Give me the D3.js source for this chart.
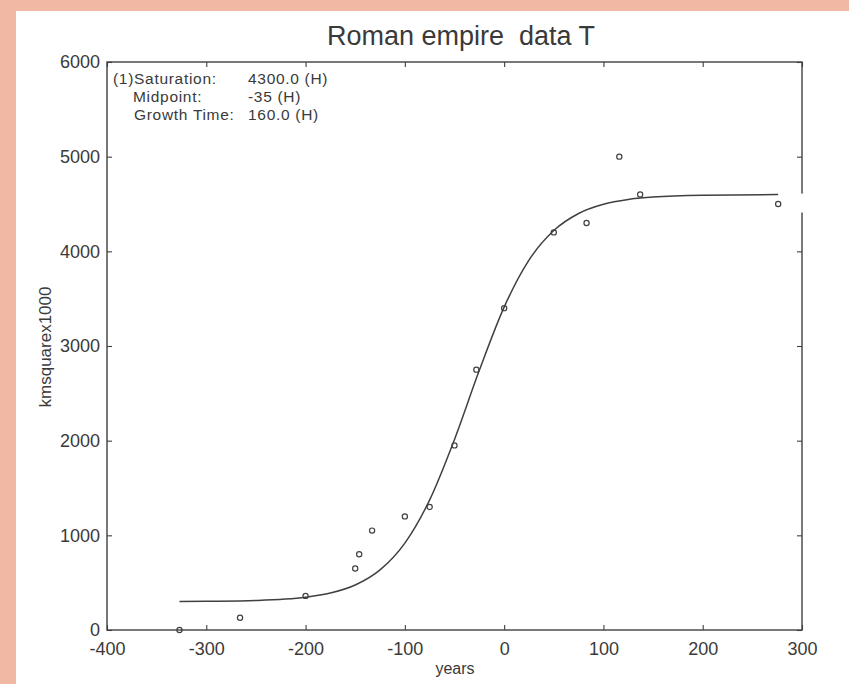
<!DOCTYPE html>
<html><head><meta charset="utf-8">
<script src="https://cdn.jsdelivr.net/npm/d3@7"></script>
<style>
html,body{margin:0;padding:0;background:#f1b8a3;}
svg{display:block;}
text{font-family:"Liberation Sans",Arial,Helvetica,sans-serif;fill:#3a3a3a;}
</style></head>
<body>
<svg id="c" width="849" height="684"></svg>
<script>
// data
const years  = [-327, -266, -200, -150, -146, -133, -100, -75, -50, -28, 0, 50, 83, 116, 137, 276];
const area   = [0, 130, 360, 650, 800, 1050, 1200, 1300, 1950, 2750, 3400, 4200, 4300, 5000, 4600, 4500];
const fitYears = [-327, -300, -250, -200, -175, -150, -125, -100, -75, -50, -25, 0, 25, 50, 75, 100, 125, 150, 200, 276];
const fitArea  = [300, 303, 312, 346, 390, 475, 635, 918, 1375, 2013, 2743, 3411, 3907, 4220, 4400, 4497, 4548, 4573, 4593, 4600];
const xTicks = [-400, -300, -200, -100, 0, 100, 200, 300];
const yTicks = [0, 1000, 2000, 3000, 4000, 5000, 6000];
const titleText = "Roman empire  data T";
const infoLabels = ["(1)Saturation:", "Midpoint:", "Growth Time:"];
const infoValues = ["4300.0 (H)", "-35 (H)", "160.0 (H)"];

const svg = d3.select("#c");
svg.append("rect").attr("x",16).attr("y",11).attr("width",833).attr("height",673).attr("fill","#ffffff");

const L=107, R=802, T=62, B=630;
const x = d3.scaleLinear().domain([-400,300]).range([L,R]);
const y = d3.scaleLinear().domain([0,6000]).range([B,T]);
const col = "#404040";

// frame
svg.append("rect").attr("x",L).attr("y",T).attr("width",R-L).attr("height",B-T)
  .attr("fill","none").attr("stroke",col).attr("stroke-width",1.4);

function styleAxis(g){ g.select(".domain").remove(); g.selectAll("line").attr("stroke",col).attr("stroke-width",1.1); }
const fmt = d => String(d);
// bottom (inward ticks) with labels
const gb = svg.append("g").attr("transform",`translate(0,${B})`)
  .call(d3.axisBottom(x).tickValues(xTicks).tickSize(-5).tickPadding(12).tickFormat(fmt));
styleAxis(gb);
gb.selectAll("text").attr("font-size",18).attr("fill","#3a3a3a");
// top
const gt = svg.append("g").attr("transform",`translate(0,${T})`)
  .call(d3.axisTop(x).tickValues(xTicks).tickSize(-5).tickFormat(""));
styleAxis(gt);
// left
const gl = svg.append("g").attr("transform",`translate(${L},0)`)
  .call(d3.axisLeft(y).tickValues(yTicks).tickSize(-5).tickPadding(7).tickFormat(fmt));
styleAxis(gl);
gl.selectAll("text").attr("font-size",18).attr("fill","#3a3a3a");
// right
const gr = svg.append("g").attr("transform",`translate(${R},0)`)
  .call(d3.axisRight(y).tickValues(yTicks).tickSize(-5).tickFormat(""));
styleAxis(gr);

// small break in right frame
svg.append("rect").attr("x",R-2).attr("y",y(4610)).attr("width",5).attr("height",y(4410)-y(4610)).attr("fill","#ffffff");

// fitted curve
const line = d3.line().x((d,i)=>x(fitYears[i])).y(d=>y(d)).curve(d3.curveMonotoneX);
svg.append("path").datum(fitArea).attr("d",line).attr("fill","none").attr("stroke",col).attr("stroke-width",1.5);

// points
svg.selectAll("circle.pt").data(area).enter().append("circle").attr("class","pt")
  .attr("cx",(d,i)=>x(years[i])).attr("cy",d=>y(d)).attr("r",2.6)
  .attr("fill","none").attr("stroke",col).attr("stroke-width",1.2);

// title
svg.append("text").attr("x",461).attr("y",45).attr("text-anchor","middle").attr("font-size",27)
  .style("white-space","pre").attr("xml:space","preserve").text(titleText);
// axis labels
svg.append("text").attr("x",455).attr("y",674).attr("text-anchor","middle").attr("font-size",16).text("years");
svg.append("text").attr("transform","translate(51,347) rotate(-90)").attr("text-anchor","middle").attr("font-size",17).text("kmsquarex1000");

// info box
const infoY=[84,102,120];
const infoX=[113,133,134];
infoLabels.forEach((t,i)=>{
  svg.append("text").attr("x",infoX[i]).attr("y",infoY[i]).attr("font-size",15.5).attr("letter-spacing",0.7).text(t);
  svg.append("text").attr("x",248).attr("y",infoY[i]).attr("font-size",15.5).attr("letter-spacing",0.7).text(infoValues[i]);
});
</script>
</body></html>
